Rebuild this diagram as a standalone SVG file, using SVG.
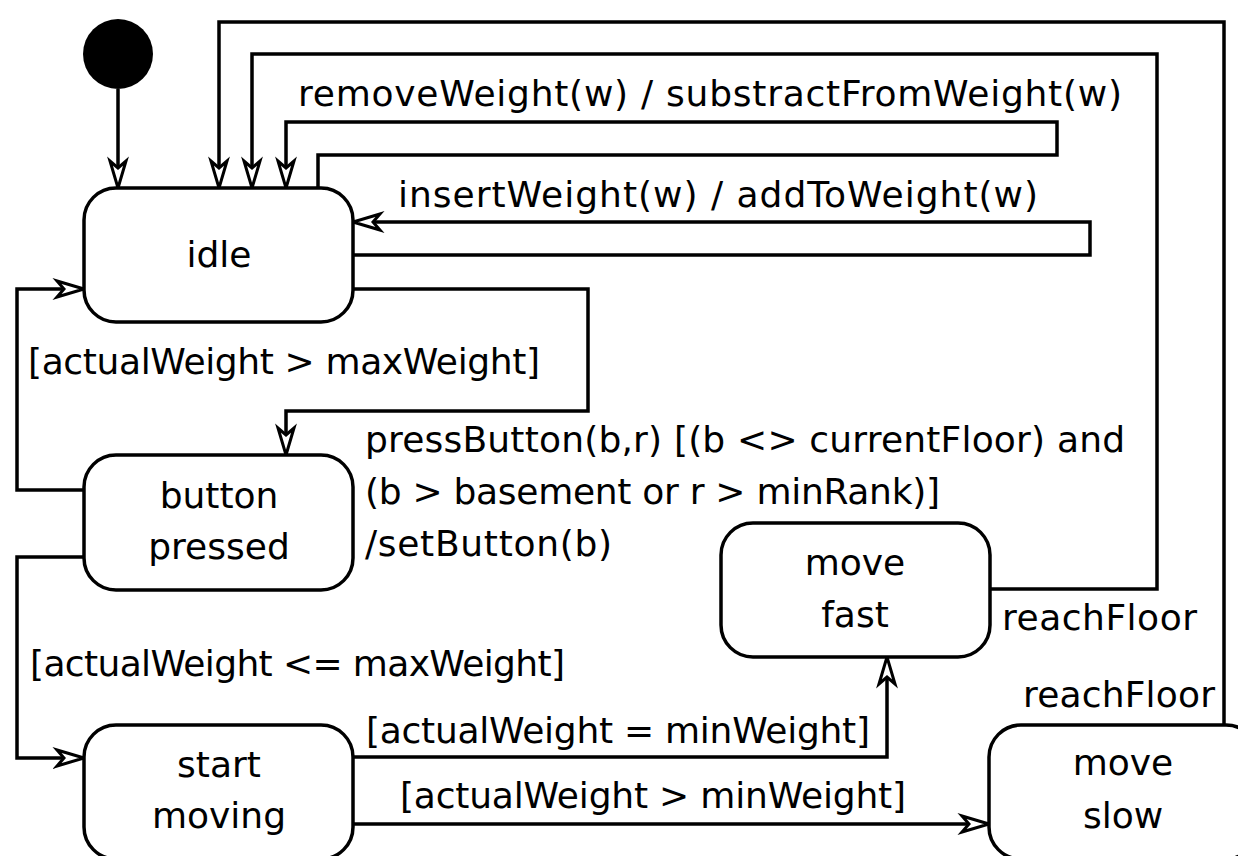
<svg xmlns="http://www.w3.org/2000/svg" width="1238" height="856" viewBox="0 0 1238 856">
<style>
.node rect{fill:#fff;stroke:#000;stroke-width:3.5}
.lbl{font-family:"DejaVu Sans",sans-serif;font-size:36px;fill:#000}
.nt{font-family:"DejaVu Sans",sans-serif;font-size:36px;fill:#000;text-anchor:middle}
.edge{fill:none;stroke:#000;stroke-width:3.5;marker-end:url(#arr)}
</style>
<defs>
<marker id="arr" markerUnits="userSpaceOnUse" markerWidth="34" markerHeight="22" refX="0" refY="0" viewBox="-30 -11 34 22" orient="auto" overflow="visible">
<path d="M0,0 L-27,-8 L-20,0 L-27,8 Z" fill="#fff" stroke="#000" stroke-width="3" stroke-linejoin="miter"/>
</marker>
</defs>
<rect x="0" y="0" width="1238" height="856" fill="#fff"/>
<g id="connectors">
<path class="edge" d="M118,89 L118,188"/>
<path class="edge" d="M1224,725 L1224,22 L219,22 L219,188"/>
<path class="edge" d="M990,589 L1157,589 L1157,54 L252,54 L252,188"/>
<path class="edge" d="M318,188 L318,155 L1057,155 L1057,122 L286,122 L286,188"/>
<path class="edge" d="M353,255 L1090,255 L1090,222 L353,222"/>
<path class="edge" d="M353,289 L588,289 L588,411 L286,411 L286,455"/>
<path class="edge" d="M84,490 L17,490 L17,289 L84,289"/>
<path class="edge" d="M84,557 L17,557 L17,758 L84,758"/>
<path class="edge" d="M353,757 L887,757 L887,657"/>
<path class="edge" d="M353,824 L989,824"/>
<text class="lbl" x="298" y="106" textLength="824">removeWeight(w) / substractFromWeight(w)</text>
<text class="lbl" x="398" y="207" textLength="640">insertWeight(w) / addToWeight(w)</text>
<text class="lbl" x="28" y="374" textLength="512">[actualWeight &gt; maxWeight]</text>
<text class="lbl" x="365" y="452" textLength="760">pressButton(b,r) [(b &lt;&gt; currentFloor) and</text>
<text class="lbl" x="365" y="504" textLength="575">(b &gt; basement or r &gt; minRank)]</text>
<text class="lbl" x="365" y="556" textLength="247">/setButton(b)</text>
<text class="lbl" x="30" y="676" textLength="535">[actualWeight &lt;= maxWeight]</text>
<text class="lbl" x="366" y="743" textLength="504">[actualWeight = minWeight]</text>
<text class="lbl" x="400" y="808" textLength="506">[actualWeight &gt; minWeight]</text>
<text class="lbl" x="1002" y="630" textLength="195">reachFloor</text>
<text class="lbl" x="1023" y="707" textLength="192">reachFloor</text>
</g>
<g id="initial"><circle cx="118" cy="54" r="35" fill="#000"/></g>
<g id="idle" class="node"><rect x="84" y="188" width="269" height="134" rx="32"/><text class="nt" x="219" y="267">idle</text></g>
<g id="buttonPressed" class="node"><rect x="84" y="455" width="269" height="135" rx="32"/><text class="nt" x="219" y="508">button</text><text class="nt" x="219" y="559">pressed</text></g>
<g id="startMoving" class="node"><rect x="84" y="725" width="269" height="134" rx="32"/><text class="nt" x="219" y="777">start</text><text class="nt" x="219" y="828">moving</text></g>
<g id="moveFast" class="node"><rect x="721" y="523" width="269" height="134" rx="32"/><text class="nt" x="855" y="575">move</text><text class="nt" x="855" y="627">fast</text></g>
<g id="moveSlow" class="node"><rect x="989" y="725" width="269" height="134" rx="32"/><text class="nt" x="1123" y="775">move</text><text class="nt" x="1123" y="828">slow</text></g>
</svg>
